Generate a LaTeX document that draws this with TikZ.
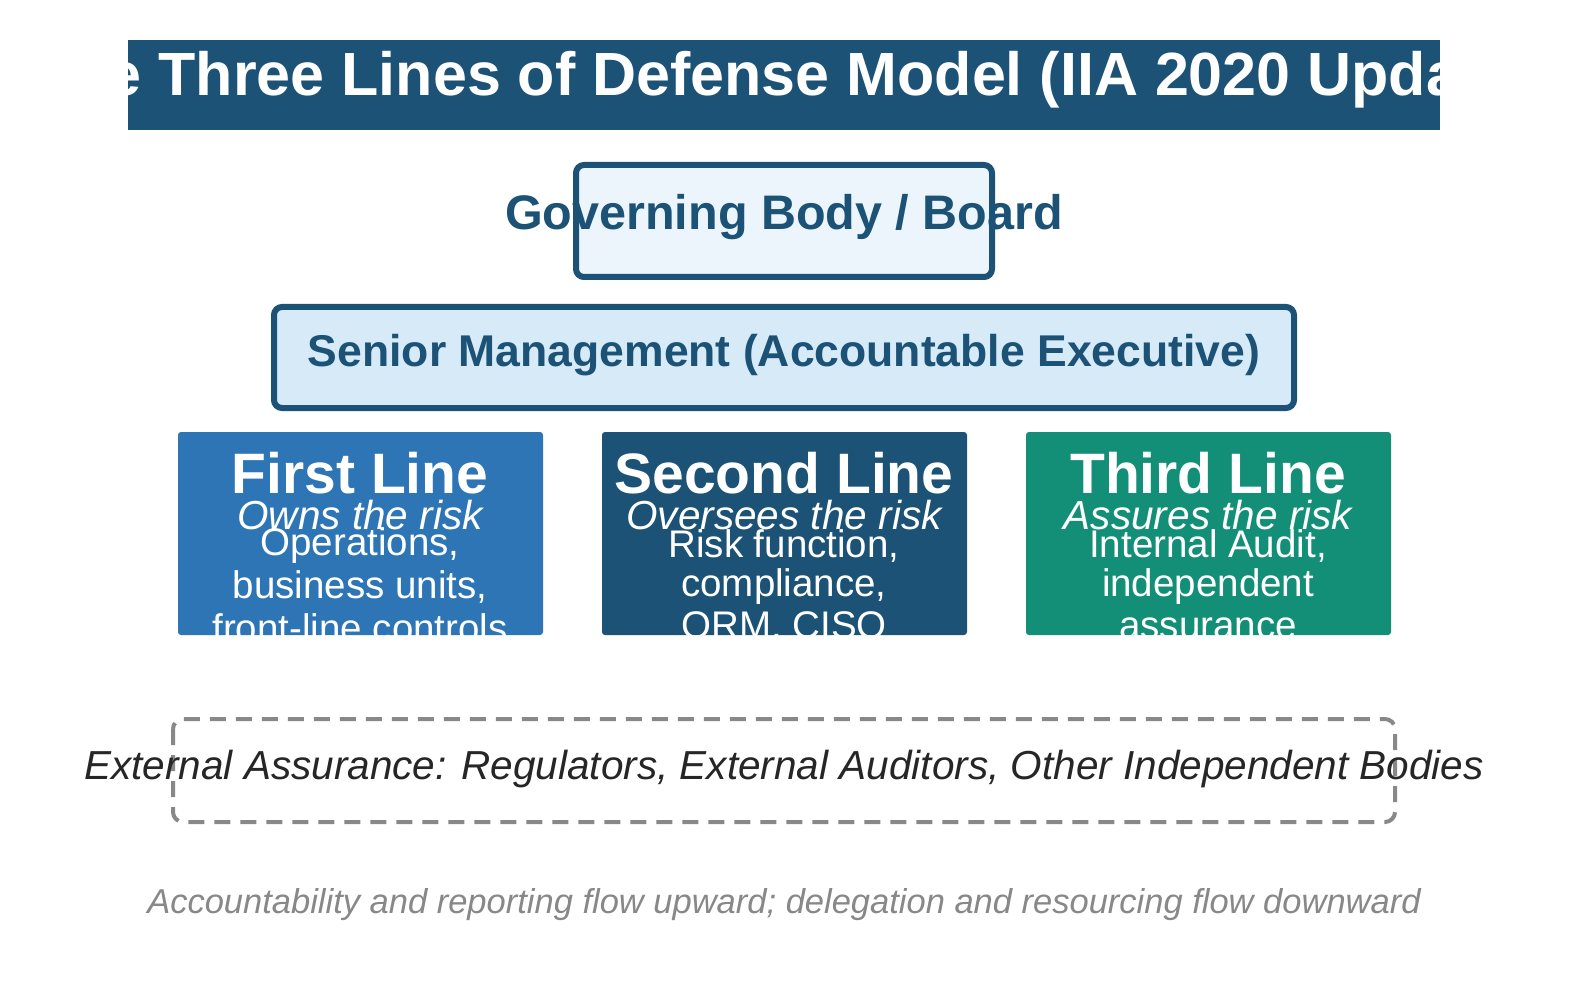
\documentclass[tikz,border=0pt]{standalone}
\usepackage{fontspec}
\setmainfont{Liberation Sans}
\definecolor{dblue}{HTML}{1B5276}
\definecolor{mblue}{HTML}{2E75B6}
\definecolor{tgreen}{HTML}{148F77}
\definecolor{pale}{HTML}{EBF5FB}
\definecolor{pale2}{HTML}{D6EAF8}
\definecolor{gr}{HTML}{888888}
\begin{document}
\begin{tikzpicture}[x=1pt,y=-1pt,
  lbox/.style={draw=dblue,line width=6pt,rounded corners=8pt},
  ttl/.style={text=white,font=\fontsize{57}{64}\selectfont\bfseries},
  sub/.style={text=white,font=\fontsize{40.5}{46}\selectfont\itshape},
  bod/.style={text=white,font=\fontsize{38.5}{44}\selectfont,align=center}]
\fill[white] (0,0) rectangle (1596,984);
% title
\fill[dblue] (128,40) rectangle (1440,130);
\begin{scope}
\clip (128,40) rectangle (1440,130);
\node[text=white,font=\fontsize{61}{70}\selectfont\bfseries] (title) at (784,80) {The Three Lines of Defense Model (IIA 2020 Update)};
\end{scope}
% governing
\draw[lbox,fill=pale] (576,165) rectangle (992,277);
\node[text=dblue,font=\fontsize{48.5}{54}\selectfont\bfseries] (gov) at (784,217) {Governing Body / Board};
% senior
\draw[lbox,fill=pale2] (274,307) rectangle (1294,408);
\node[text=dblue,font=\fontsize{44.5}{50}\selectfont\bfseries] (sen) at (784,355) {Senior Management (Accountable Executive)};
% three lines
\foreach \x/\c/\t/\s/\a/\b/\d [count=\i] in {
 178/mblue/{First Line}/{Owns the risk}/{Operations,}/{business units,}/{front-line controls},
 602/dblue/{Second Line}/{Oversees the risk}/{Risk function,}/{compliance,}/{ORM, CISO},
 1026/tgreen/{Third Line}/{Assures the risk}/{Internal Audit,}/{independent}/{assurance}}{
 \fill[\c,rounded corners=3pt] (\x,432) rectangle ++(365,203);
 \begin{scope}
 \clip (\x,432) rectangle ++(365,203);
 \node[ttl] (t\i) at (\x+182,473) {\t};
 \node[sub] (s\i) at (\x+182,515) {\s};
 \node[bod] (b1\i) at (\x+182,546) {\a};
 \node[bod] (b2\i) at (\x+182,587) {\b};
 \node[bod] (b3\i) at (\x+182,628) {\d};
 \end{scope}
}
% external
\draw[gr,line width=4pt,dash pattern=on 16pt off 10pt,rounded corners=10pt] (173,719) rectangle (1395,822);
\node[text=black!85,font=\fontsize{40.5}{46}\selectfont\itshape] (ext) at (784,769) {External Assurance: Regulators, External Auditors, Other Independent Bodies};
\node[text=gr,font=\fontsize{34.5}{40}\selectfont\itshape] (foot) at (784,905) {Accountability and reporting flow upward; delegation and resourcing flow downward};
\pgfresetboundingbox
\useasboundingbox (0,0) rectangle (1596,984);
\end{tikzpicture}
\end{document}
